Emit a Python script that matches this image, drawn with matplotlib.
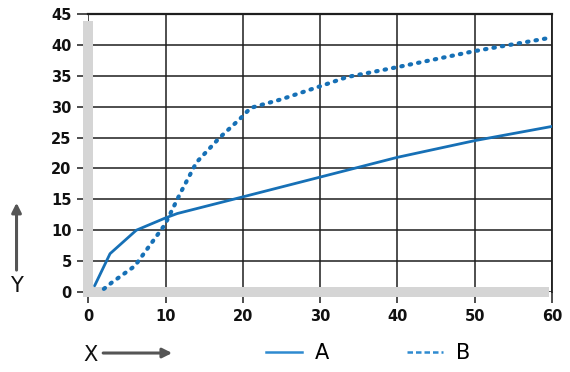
import matplotlib
matplotlib.use('Agg')
import matplotlib.pyplot as plt
from matplotlib.lines import Line2D

a_x = [0.8, 2.8, 6.2, 10, 11.5, 20, 30, 40, 50, 60]
a_y = [1.0, 6.2, 10.0, 12.0, 12.7, 15.4, 18.6, 21.8, 24.5, 26.8]

b_x = [2, 3, 6, 9.9, 11.9, 14, 17, 19.6, 21, 25, 30, 33.5, 40, 50, 60]
b_y = [0.5, 1.5, 4.2, 10.9, 16.0, 21.0, 25.0, 28.0, 29.8, 31.2, 33.3, 34.8, 36.4, 39.0, 41.2]

x_ticks = [0, 10, 20, 30, 40, 50, 60]
y_ticks = [0, 5, 10, 15, 20, 25, 30, 35, 40, 45]
series_names = ['A', 'B']

blue = '#1670b6'
legend_blue = '#2e8ad0'
grey = '#d5d5d5'
dark = '#1e1e1e'

plt.rcParams['font.family'] = ['DejaVu Sans']

fig = plt.figure(figsize=(5.7, 3.72), dpi=100)
ax = fig.add_axes([0.1551, 0.2151, 0.8133, 0.7473])

ax.plot(a_x, a_y, color=blue, lw=2.0, solid_capstyle='round', zorder=3)
ax.plot(b_x, b_y, color=blue, lw=3.0, linestyle=(0, (0.35, 1.7)),
        dash_capstyle='round', zorder=3)

ax.set_xlim(0, 60)
ax.set_ylim(0, 45)
ax.set_xticks(x_ticks)
ax.set_yticks(y_ticks)
ax.grid(True, color=dark, lw=1.1)

# thick grey axis bars on the left and bottom
for side in ['left', 'bottom']:
    ax.spines[side].set_color(grey)
    ax.spines[side].set_linewidth(7.2)
    ax.spines[side].set_capstyle('projecting')
ax.spines['left'].set_bounds(0, 43.1)
ax.spines['bottom'].set_bounds(0, 59.0)
ax.spines['top'].set_color(dark)
ax.spines['top'].set_linewidth(1.6)
ax.spines['right'].set_color(dark)
ax.spines['right'].set_linewidth(1.3)

ax.tick_params(axis='both', direction='out', length=8, width=1.1, color=dark,
               labelsize=10.5, pad=4)
for lab in ax.get_xticklabels() + ax.get_yticklabels():
    lab.set_fontweight('bold')
    lab.set_color('#111111')

# axis captions with arrows
fig.text(0.158, 0.046, 'X', fontsize=15, ha='center', va='center', color='#111111')
fig.text(0.028, 0.231, 'Y', fontsize=15, ha='center', va='center', color='#111111')
arrow = dict(arrowstyle='-|>', color='#555555', lw=2.2, mutation_scale=14,
             shrinkA=0, shrinkB=0)
fig.add_artist(matplotlib.patches.FancyArrowPatch((0.181, 0.051), (0.302, 0.051),
               transform=fig.transFigure, **arrow))
fig.add_artist(matplotlib.patches.FancyArrowPatch((0.029, 0.274), (0.029, 0.455),
               transform=fig.transFigure, **arrow))

handles = [Line2D([], [], color=legend_blue, lw=1.8),
           Line2D([], [], color=legend_blue, lw=1.8, linestyle=(0, (2.2, 1.2)))]
fig.legend(handles, series_names, loc='center left', bbox_to_anchor=(0.466, 0.05),
           ncol=2, frameon=False, fontsize=15, borderpad=0, borderaxespad=0,
           handlelength=1.75, handletextpad=0.6, columnspacing=3.75)

fig.savefig('out.png', dpi=100)
